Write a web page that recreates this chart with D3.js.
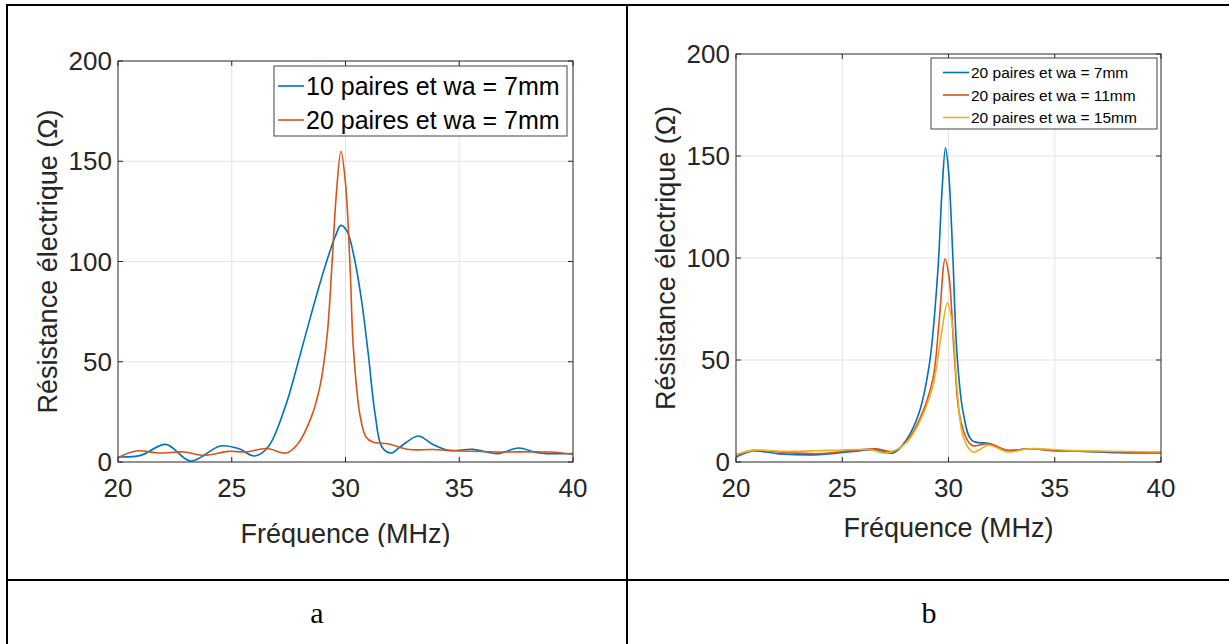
<!DOCTYPE html>
<html>
<head>
<meta charset="utf-8">
<script src="https://cdn.jsdelivr.net/npm/d3@7"></script>
<style>
  body { margin: 0; background: #fff; }
  svg { display: block; }
  .tick-label { font-family: "Liberation Sans", Arial, sans-serif; fill: #262626; }
  .axis-title { font-family: "Liberation Sans", Arial, sans-serif; fill: #262626; }
  .legend-text { font-family: "Liberation Sans", Arial, sans-serif; fill: #000; }
  .caption { font-family: "Liberation Serif", "Times New Roman", serif; fill: #000; }
</style>
</head>
<body>
<div id="chart"></div>
<script>
// ---- data ----
var xTicks = [20, 25, 30, 35, 40];
var yTicks = [0, 50, 100, 150, 200];

// panel a
var freqA10 = [20, 21, 22.1, 23.2, 24.5, 25.3, 26, 26.6, 27.35, 27.9, 28.5, 29.1, 29.55, 29.8, 30.07, 30.4, 30.7, 31, 31.3, 31.6, 32, 32.4, 33.2, 33.8, 34.55, 35.6, 36.7, 37.6, 38.5, 40];
var resA10  = [2.5, 3.3, 8.8, 0.5, 8, 6.7, 3, 7.5, 27.5, 49, 74, 97.5, 112.5, 118, 115, 101, 81, 54, 24, 7.5, 4.5, 7.5, 13, 9, 5.8, 6.3, 4.2, 7, 4.5, 4.2];
var freqA20 = [20, 20.8, 21.8, 22.9, 23.8, 24.85, 25.6, 26.55, 27.4, 27.9, 28.5, 28.9, 29.2, 29.4, 29.6, 29.8, 30, 30.2, 30.35, 30.65, 30.9, 31.2, 31.9, 32.8, 33.8, 35, 36.8, 39, 40];
var resA20  = [2.2, 5.5, 4.5, 5, 3.3, 5.3, 5, 6.7, 4.5, 9, 22.5, 39, 64, 97.5, 134, 155, 139, 97.5, 56, 22.5, 12.5, 10, 9, 6.2, 6.2, 5.5, 5, 5, 3.8];

// panel b
var freqB7  = [20, 20.8, 22.06, 23.9, 25.5, 26.6, 27.4, 28, 28.6, 29.1, 29.5, 29.7, 29.86, 30, 30.2, 30.4, 30.7, 31.1, 31.9, 32.7, 33.8, 34.9, 36.4, 38, 40];
var resB7   = [2.4, 5.4, 4, 3.6, 5.2, 6, 4.4, 10.6, 23.7, 48, 94, 134, 154, 143, 102, 53, 23.7, 10.6, 9, 5.7, 6.5, 5.7, 5.2, 4.6, 4.4];
var freqB11 = [20, 20.8, 22.06, 23.9, 25.5, 26.6, 27.4, 28, 28.6, 29.25, 29.56, 29.84, 30.03, 30.27, 30.58, 31.1, 31.9, 32.8, 33.8, 35, 36.5, 38, 40];
var resB11  = [3.3, 5.7, 4.9, 4.1, 5.7, 6.5, 5.2, 9.8, 20, 40, 69, 99.5, 90.5, 53, 20, 8.2, 9, 5.7, 6.5, 5.5, 5.2, 5, 4.6];
var freqB15 = [20, 20.8, 22.4, 24.3, 26.3, 27.1, 28, 28.6, 29.25, 29.64, 29.95, 30.2, 30.4, 30.7, 31.15, 31.9, 32.8, 33.8, 35.6, 37.5, 40];
var resB15  = [3.6, 5.7, 5.2, 5.7, 6, 4.4, 9.3, 18.8, 36.7, 61, 78, 66, 36.7, 12.2, 4.9, 8.2, 4.9, 6.5, 5.7, 5.3, 4.9];

var colors = ["#0072BD", "#D95319", "#EDB120"];

var W = 1229, H = 644;
var svg = d3.select("#chart").append("svg")
    .attr("width", W)
    .attr("height", H);

function zip(xs, ys) {
    return xs.map(function(x, i) { return {f: x, r: ys[i]}; });
}

function drawPanel(cfg) {
    var g = svg.append("g");
    if (cfg.clipBottom) {
        // the left figure is cropped just under its x title
        var cid = "clip-" + cfg.id;
        svg.append("clipPath").attr("id", cid)
            .append("rect").attr("x", 0).attr("y", 0).attr("width", W).attr("height", cfg.clipBottom);
        g.attr("clip-path", "url(#" + cid + ")");
    }

    var x = d3.scaleLinear().domain([20, 40]).range([cfg.left, cfg.right]);
    var y = d3.scaleLinear().domain([0, 200]).range([cfg.bottom, cfg.top]);

    // grid
    g.append("g").selectAll("line.gx")
        .data(xTicks.slice(1, -1))
        .enter().append("line")
        .attr("x1", function(d) { return x(d); })
        .attr("x2", function(d) { return x(d); })
        .attr("y1", cfg.top).attr("y2", cfg.bottom)
        .attr("stroke", "#e3e3e3").attr("stroke-width", 1);
    g.append("g").selectAll("line.gy")
        .data(yTicks.slice(1, -1))
        .enter().append("line")
        .attr("y1", function(d) { return y(d); })
        .attr("y2", function(d) { return y(d); })
        .attr("x1", cfg.left).attr("x2", cfg.right)
        .attr("stroke", "#e3e3e3").attr("stroke-width", 1);

    // curves
    var clipId = "plot-" + cfg.id;
    svg.append("clipPath").attr("id", clipId)
        .append("rect")
        .attr("x", cfg.left).attr("y", cfg.top)
        .attr("width", cfg.right - cfg.left).attr("height", cfg.bottom - cfg.top);

    var line = d3.line()
        .x(function(d) { return x(d.f); })
        .y(function(d) { return y(d.r); })
        .curve(d3.curveCatmullRom.alpha(0.5));

    var curves = g.append("g").attr("clip-path", "url(#" + clipId + ")");
    cfg.series.forEach(function(s, i) {
        curves.append("path")
            .datum(zip(s.f, s.r))
            .attr("fill", "none")
            .attr("stroke", colors[i])
            .attr("stroke-width", 1.6)
            .attr("d", line);
    });

    // frame + inward ticks (all four sides)
    var axisColor = "#262626";
    var tl = 5;
    var axG = g.append("g").attr("stroke", axisColor).attr("stroke-width", 1);
    axG.append("rect")
        .attr("x", cfg.left).attr("y", cfg.top)
        .attr("width", cfg.right - cfg.left).attr("height", cfg.bottom - cfg.top)
        .attr("fill", "none");
    xTicks.forEach(function(t) {
        axG.append("line").attr("x1", x(t)).attr("x2", x(t)).attr("y1", cfg.bottom).attr("y2", cfg.bottom - tl);
        axG.append("line").attr("x1", x(t)).attr("x2", x(t)).attr("y1", cfg.top).attr("y2", cfg.top + tl);
    });
    yTicks.forEach(function(t) {
        axG.append("line").attr("y1", y(t)).attr("y2", y(t)).attr("x1", cfg.left).attr("x2", cfg.left + tl);
        axG.append("line").attr("y1", y(t)).attr("y2", y(t)).attr("x1", cfg.right).attr("x2", cfg.right - tl);
    });

    // tick labels
    g.append("g").selectAll("text")
        .data(xTicks)
        .enter().append("text")
        .attr("class", "tick-label")
        .attr("x", function(d) { return x(d); })
        .attr("y", cfg.bottom + 35)
        .attr("text-anchor", "middle")
        .style("font-size", "26px")
        .text(function(d) { return d; });
    g.append("g").selectAll("text")
        .data(yTicks)
        .enter().append("text")
        .attr("class", "tick-label")
        .attr("x", cfg.left - 6)
        .attr("y", function(d) { return y(d) + 9; })
        .attr("text-anchor", "end")
        .style("font-size", "26px")
        .text(function(d) { return d; });

    // axis titles
    g.append("text")
        .attr("class", "axis-title")
        .attr("x", (cfg.left + cfg.right) / 2)
        .attr("y", cfg.xTitleY)
        .attr("text-anchor", "middle")
        .style("font-size", "27px")
        .text("Fréquence (MHz)");
    g.append("text")
        .attr("class", "axis-title")
        .attr("transform", "translate(" + cfg.yTitleX + "," + ((cfg.top + cfg.bottom) / 2) + ") rotate(-90)")
        .attr("text-anchor", "middle")
        .style("font-size", "27px")
        .text("Résistance électrique (Ω)");

    // legend
    var L = cfg.legend;
    var lg = g.append("g");
    lg.append("rect")
        .attr("x", L.x).attr("y", L.y)
        .attr("width", L.w).attr("height", L.h)
        .attr("fill", "#fff")
        .attr("stroke", "#444").attr("stroke-width", 1);
    cfg.series.forEach(function(s, i) {
        var cy = L.y + L.first + i * L.step;
        lg.append("line")
            .attr("x1", L.x + L.lineX0).attr("x2", L.x + L.lineX1)
            .attr("y1", cy).attr("y2", cy)
            .attr("stroke", colors[i]).attr("stroke-width", 1.6);
        lg.append("text")
            .attr("class", "legend-text")
            .attr("x", L.x + L.lineX1 + 2)
            .attr("y", cy + L.fs * 0.36)
            .style("font-size", L.fs + "px")
            .text(s.name);
    });
}

drawPanel({
    id: "a",
    left: 118, right: 573, top: 61, bottom: 462,
    xTitleY: 543, yTitleX: 57,
    clipBottom: 547,
    series: [
        {name: "10 paires et wa = 7mm", f: freqA10, r: resA10},
        {name: "20 paires et wa = 7mm", f: freqA20, r: resA20}
    ],
    legend: {x: 274, y: 66, w: 293, h: 70, first: 20, step: 34, lineX0: 4, lineX1: 30, fs: 25}
});

drawPanel({
    id: "b",
    left: 736, right: 1161, top: 54, bottom: 462,
    xTitleY: 537, yTitleX: 675,
    series: [
        {name: "20 paires et wa = 7mm", f: freqB7, r: resB7},
        {name: "20 paires et wa = 11mm", f: freqB11, r: resB11},
        {name: "20 paires et wa = 15mm", f: freqB15, r: resB15}
    ],
    legend: {x: 931, y: 58, w: 226, h: 71, first: 14.5, step: 22.5, lineX0: 12, lineX1: 38, fs: 15.5}
});

// table borders and captions
var tb = svg.append("g").attr("stroke", "#000").attr("stroke-width", 2).attr("fill", "none");
tb.append("line").attr("x1", 6).attr("x2", W).attr("y1", 5).attr("y2", 5);
tb.append("line").attr("x1", 7).attr("x2", 7).attr("y1", 4).attr("y2", H);
tb.append("line").attr("x1", 627).attr("x2", 627).attr("y1", 4).attr("y2", H);
tb.append("line").attr("x1", 6).attr("x2", W).attr("y1", 580).attr("y2", 580);

svg.append("text").attr("class", "caption")
    .attr("x", 317).attr("y", 623).attr("text-anchor", "middle")
    .style("font-size", "30px").text("a");
svg.append("text").attr("class", "caption")
    .attr("x", 929).attr("y", 623).attr("text-anchor", "middle")
    .style("font-size", "30px").text("b");
</script>
</body>
</html>
